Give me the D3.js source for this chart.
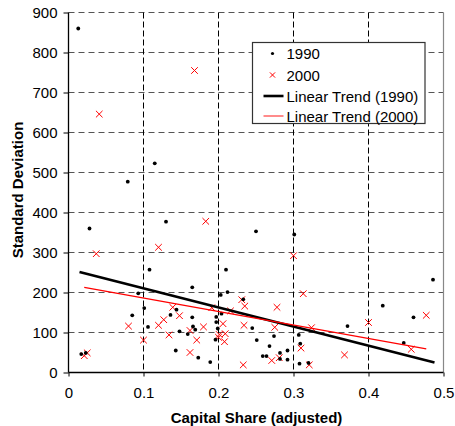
<!DOCTYPE html>
<html>
<head>
<meta charset="utf-8">
<script src="https://cdn.jsdelivr.net/npm/d3@7"></script>
<style>
  html, body { margin: 0; padding: 0; background: #fff; }
  svg { display: block; font-family: "Liberation Sans", Arial, sans-serif; }
</style>
</head>
<body>
<div id="canvas"></div>
<script>
// capital share vs standard deviation, two survey years + linear trends
const pts1990 = [
  [0.013, 860], [0.017, 46], [0.023, 49], [0.028, 360], [0.079, 477],
  [0.115, 523], [0.130, 377], [0.250, 353], [0.108, 257], [0.210, 257],
  [0.165, 213], [0.093, 198], [0.203, 194], [0.212, 201], [0.233, 183],
  [0.101, 161], [0.085, 143], [0.106, 114], [0.144, 157], [0.136, 144],
  [0.165, 138], [0.166, 115], [0.169, 107], [0.159, 96], [0.148, 103],
  [0.143, 55], [0.173, 37], [0.189, 26], [0.197, 139], [0.204, 147],
  [0.197, 126], [0.199, 110], [0.196, 82], [0.245, 111], [0.251, 81],
  [0.274, 91], [0.268, 66], [0.259, 41], [0.264, 41], [0.282, 49],
  [0.292, 55], [0.282, 34], [0.292, 32], [0.307, 94], [0.309, 72],
  [0.308, 22], [0.320, 24], [0.301, 345], [0.486, 232], [0.419, 167],
  [0.460, 138], [0.372, 116], [0.447, 74]
];
const pts2000 = [
  [0.021, 42], [0.025, 49], [0.041, 646], [0.168, 755], [0.183, 378],
  [0.120, 313], [0.037, 297], [0.231, 182], [0.235, 166], [0.139, 163],
  [0.148, 142], [0.127, 132], [0.120, 118], [0.080, 116], [0.134, 94],
  [0.100, 81], [0.180, 114], [0.162, 105], [0.171, 81], [0.162, 50],
  [0.191, 162], [0.206, 122], [0.201, 95], [0.209, 97], [0.200, 88],
  [0.208, 77], [0.216, 154], [0.234, 118], [0.233, 19], [0.300, 292],
  [0.313, 197], [0.278, 163], [0.275, 113], [0.324, 112], [0.310, 61],
  [0.281, 37], [0.271, 30], [0.321, 19], [0.477, 143], [0.400, 125],
  [0.368, 44], [0.457, 58]
];
// trend line end points
const trend1990 = [[0.0147, 251], [0.488, 25]];
const trend2000 = [[0.021, 213], [0.477, 59]];

const xTicks = [0, 0.1, 0.2, 0.3, 0.4, 0.5];
const yTicks = [0, 100, 200, 300, 400, 500, 600, 700, 800, 900];
const legendLabels = ['1990', '2000', 'Linear Trend (1990)', 'Linear Trend (2000)'];

(function() {
  const W = 455, H = 426;
  const svg = d3.select('#canvas').append('svg').attr('width', W).attr('height', H);

  const x = d3.scaleLinear().domain([0, 0.5]).range([68.5, 443.5]);
  const y = d3.scaleLinear().domain([0, 900]).range([372.5, 12.5]);

  // plot background + grid
  const grid = svg.append('g');
  grid.selectAll('line.h').data(yTicks.filter(d => d > 0)).join('line')
    .attr('x1', x(0)).attr('x2', x(0.5))
    .attr('y1', d => y(d)).attr('y2', d => y(d))
    .attr('stroke', '#555').attr('stroke-width', 1.2)
    .attr('stroke-dasharray', '6,4');
  grid.selectAll('line.v').data(xTicks.filter(d => d > 0 && d < 0.5)).join('line')
    .attr('x1', d => x(d)).attr('x2', d => x(d))
    .attr('y1', y(900)).attr('y2', y(0))
    .attr('stroke', '#000').attr('stroke-width', 1)
    .attr('stroke-dasharray', '6,3');
  // right border
  grid.append('line')
    .attr('x1', x(0.5)).attr('x2', x(0.5)).attr('y1', y(900)).attr('y2', y(0))
    .attr('stroke', '#888').attr('stroke-width', 1.2);

  // axes
  const yAxis = svg.append('g').attr('transform', `translate(${x(0)},0)`)
    .call(d3.axisLeft(y).tickValues(yTicks).tickSize(5).tickPadding(6));
  const xAxis = svg.append('g').attr('transform', `translate(0,${y(0)})`)
    .call(d3.axisBottom(x).tickValues(xTicks).tickSize(4).tickPadding(11)
      .tickFormat(d => d === 0 ? '0' : d3.format('.1f')(d)));
  [xAxis, yAxis].forEach(a => {
    a.select('.domain').attr('stroke', '#000').attr('stroke-width', 1.3);
    a.selectAll('.tick line').attr('stroke', '#000');
    a.selectAll('.tick text').attr('font-size', 15)
      .attr('font-family', '"Liberation Sans", Arial, sans-serif').attr('fill', '#000');
  });
  yAxis.select('.domain').attr('d', `M0,${y(900)}V${y(0)}`);
  xAxis.select('.domain').attr('d', `M${x(0)},0H${x(0.5)}`);

  // axis titles
  svg.append('text')
    .attr('x', 256.5).attr('y', 423)
    .attr('text-anchor', 'middle').attr('font-size', 15).attr('font-weight', 'bold')
    .text('Capital Share (adjusted)');
  svg.append('text')
    .attr('transform', 'translate(22.5,190) rotate(-90)')
    .attr('text-anchor', 'middle').attr('font-size', 15).attr('font-weight', 'bold')
    .text('Standard Deviation');

  // markers
  const xMark = (cx, cy, r) => `M${cx - r},${cy - r}L${cx + r},${cy + r}M${cx - r},${cy + r}L${cx + r},${cy - r}`;

  svg.append('g').selectAll('path').data(pts2000).join('path')
    .attr('d', d => xMark(x(d[0]), y(d[1]), 3.3))
    .attr('stroke', '#ff0000').attr('stroke-width', 1).attr('fill', 'none');

  svg.append('g').selectAll('circle').data(pts1990).join('circle')
    .attr('cx', d => x(d[0])).attr('cy', d => y(d[1])).attr('r', 1.9)
    .attr('fill', '#000');

  // trend lines
  const line = d3.line().x(d => x(d[0])).y(d => y(d[1]));
  svg.append('path').datum(trend1990).attr('d', line)
    .attr('stroke', '#000').attr('stroke-width', 2.6).attr('fill', 'none');
  svg.append('path').datum(trend2000).attr('d', line)
    .attr('stroke', '#ff0000').attr('stroke-width', 1.3).attr('fill', 'none');

  // legend
  const lg = svg.append('g').attr('transform', 'translate(252.5,42.5)');
  lg.append('rect').attr('width', 172.5).attr('height', 81)
    .attr('fill', '#fff').attr('stroke', '#333').attr('stroke-width', 1.2);
  const rowY = [11, 32.5, 53.5, 73.5];
  lg.selectAll('text').data(legendLabels).join('text')
    .attr('x', 34).attr('y', (d, i) => rowY[i] + 5.5)
    .attr('font-size', 15).attr('fill', '#000')
    .text(d => d);
  lg.append('circle').attr('cx', 20).attr('cy', rowY[0]).attr('r', 1.6).attr('fill', '#000');
  lg.append('path').attr('d', xMark(20, rowY[1], 2.6))
    .attr('stroke', '#ff0000').attr('stroke-width', 1).attr('fill', 'none');
  lg.append('line').attr('x1', 11).attr('x2', 31).attr('y1', rowY[2]).attr('y2', rowY[2])
    .attr('stroke', '#000').attr('stroke-width', 2.6);
  lg.append('line').attr('x1', 11).attr('x2', 31).attr('y1', rowY[3]).attr('y2', rowY[3])
    .attr('stroke', '#ff5a5a').attr('stroke-width', 1.4);
})();
</script>
</body>
</html>
